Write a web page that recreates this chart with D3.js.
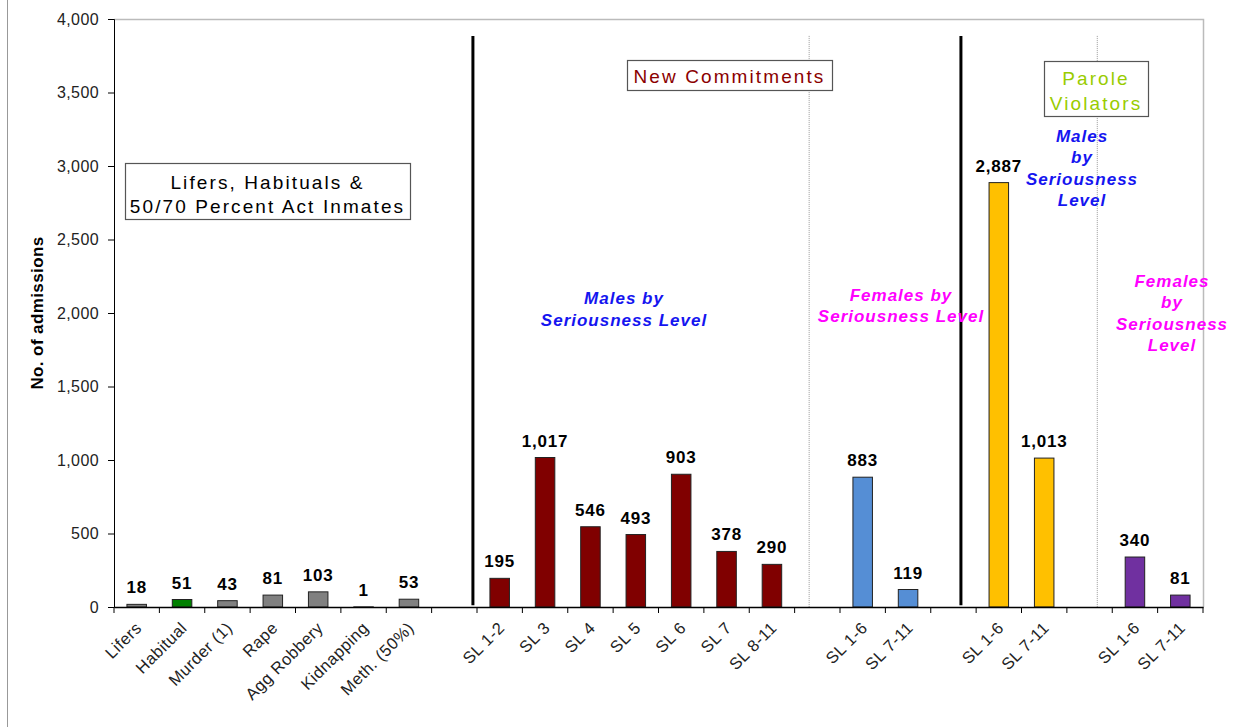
<!DOCTYPE html>
<html>
<head>
<meta charset="utf-8">
<script src="https://cdn.jsdelivr.net/npm/d3@7"></script>
<style>
  html, body { margin: 0; padding: 0; background: #fff; }
  svg { display: block; font-family: "Liberation Sans", Arial, sans-serif; }
</style>
</head>
<body>
<svg id="chart" width="1243" height="727"></svg>
<script>
// ---- data ----
const categories = ["Lifers","Habitual","Murder (1)","Rape","Agg Robbery","Kidnapping","Meth. (50%)","",
  "SL 1-2","SL 3","SL 4","SL 5","SL 6","SL 7","SL 8-11","",
  "SL 1-6","SL 7-11","",
  "SL 1-6","SL 7-11","",
  "SL 1-6","SL 7-11"];
const values = [18,51,43,81,103,1,53,null,
  195,1017,546,493,903,378,290,null,
  883,119,null,
  2887,1013,null,
  340,81];
const groups = ["other","habitual","other","other","other","other","other",null,
  "newMale","newMale","newMale","newMale","newMale","newMale","newMale",null,
  "newFemale","newFemale",null,
  "paroleMale","paroleMale",null,
  "paroleFemale","paroleFemale"];
const yTicks = [0,500,1000,1500,2000,2500,3000,3500,4000];
const colors = {other:"#808080", habitual:"#008000", newMale:"#800000", newFemale:"#558ED5", paroleMale:"#FFC000", paroleFemale:"#7030A0"};

// ---- layout ----
const svg = d3.select("#chart");
const pLeft = 114, pRight = 1203, pTop = 19, pBottom = 607;

const keys = categories.map((c,i)=>"k"+i);
const x = d3.scaleBand().domain(keys).range([pLeft,pRight]).paddingInner(0.57).paddingOuter(0.285);
const y = d3.scaleLinear().domain([0,4000]).range([pBottom,pTop]);
const step = x.step();
const px = pos => pLeft + step*pos;

// outer chart left border
svg.append("line").attr("x1",7.5).attr("x2",7.5).attr("y1",0).attr("y2",727).attr("stroke","#999").attr("stroke-width",1);

// plot area border (top / right)
svg.append("path").attr("d",`M${pLeft},${pTop+0.5}H${pRight+0.5}V${pBottom}`).attr("fill","none").attr("stroke","#bbb").attr("stroke-width",1.5);

// separators
[7.91, 18.665].forEach(p=>{
  svg.append("line").attr("x1",px(p)).attr("x2",px(p)).attr("y1",y(3885)).attr("y2",y(12))
    .attr("stroke","#000").attr("stroke-width",3);
});
[15.32, 21.67].forEach(p=>{
  svg.append("line").attr("x1",px(p)).attr("x2",px(p)).attr("y1",y(3885)).attr("y2",y(0))
    .attr("stroke","#999").attr("stroke-width",1).attr("stroke-dasharray","1,1");
});

// bars
const data = keys.map((k,i)=>({k, v:values[i], g:groups[i]})).filter(d=>d.v!==null);
svg.append("g").selectAll("rect").data(data).join("rect")
  .attr("x",d=>x(d.k)).attr("width",x.bandwidth())
  .attr("y",d=>y(d.v)).attr("height",d=>y(0)-y(d.v))
  .attr("fill",d=>colors[d.g]).attr("stroke","#222").attr("stroke-width",1);

// value labels
svg.append("g").selectAll("text").data(data).join("text")
  .attr("x",d=>x(d.k)+x.bandwidth()/2).attr("y",d=>y(d.v)-11)
  .attr("text-anchor","middle").attr("font-size",17).attr("font-weight","bold")
  .attr("letter-spacing","0.8px").attr("fill","#000")
  .text(d=>d3.format(",")(d.v));

// y axis
const yAxis = d3.axisLeft(y).tickValues(yTicks).tickFormat(d3.format(",")).tickSize(6).tickPadding(9);
const gy = svg.append("g").attr("transform",`translate(${pLeft},0)`).call(yAxis);
gy.select(".domain").attr("stroke","#000");
gy.selectAll("line").attr("stroke","#000");
gy.selectAll("text").attr("font-size",16).attr("font-family","Liberation Sans, Arial").attr("fill","#222").attr("letter-spacing","0.4px");

// x axis
const xAxis = d3.axisBottom(x).tickSize(0).tickFormat((k)=>categories[keys.indexOf(k)]);
const gx = svg.append("g").attr("transform",`translate(0,${pBottom})`).call(xAxis);
gx.select(".domain").attr("stroke","#000").attr("stroke-width",1.5);
gx.selectAll(".tick text")
  .attr("font-size",16.5).attr("font-family","Liberation Sans, Arial").attr("fill","#222").attr("letter-spacing","0.5px")
  .attr("text-anchor","end").attr("dy",0).attr("y",0)
  .attr("transform","translate(6,22) rotate(-45)");
// boundary ticks
gx.append("g").selectAll("line").data(d3.range(keys.length+1)).join("line")
  .attr("x1",i=>px(i)).attr("x2",i=>px(i)).attr("y1",0).attr("y2",6).attr("stroke","#000");

// y label
svg.append("text").attr("transform",`translate(43,313) rotate(-90)`).attr("text-anchor","middle")
  .attr("font-size",17).attr("font-weight","bold").attr("letter-spacing","0.4px").text("No. of admissions");

// annotation boxes
function box(x0,y0,x1,y1,lines,color,ys){
  svg.append("rect").attr("x",x0+0.5).attr("y",y0+0.5).attr("width",x1-x0).attr("height",y1-y0)
    .attr("fill","#fff").attr("stroke","#555").attr("stroke-width",1.2);
  lines.forEach((t,i)=>svg.append("text").attr("x",(x0+x1)/2).attr("y",ys[i]).attr("text-anchor","middle")
    .attr("font-size",19).attr("letter-spacing","2.1px").attr("fill",color).text(t));
}
box(125,163,410,219,["Lifers, Habituals &","50/70 Percent Act Inmates"],"#000",[189,213]);
box(627,60,832,90,["New Commitments"],"#8B0000",[83]);
box(1044,61,1148,116,["Parole","Violators"],"#99CC00",[85,110]);

function note(cx,ys,lines,color){
  lines.forEach((t,i)=>svg.append("text").attr("x",cx).attr("y",ys[i]).attr("text-anchor","middle")
    .attr("font-size",17).attr("font-weight","bold").attr("font-style","italic").attr("letter-spacing","1px")
    .attr("fill",color).text(t));
}
note(624,[304,326],["Males by","Seriousness Level"],"#1515F0");
note(901,[301,322],["Females by","Seriousness Level"],"#FF00FF");
note(1082,[142,163,185,206],["Males","by","Seriousness","Level"],"#1515F0");
note(1172,[287,308,330,351],["Females","by","Seriousness","Level"],"#FF00FF");
</script>
</body>
</html>
